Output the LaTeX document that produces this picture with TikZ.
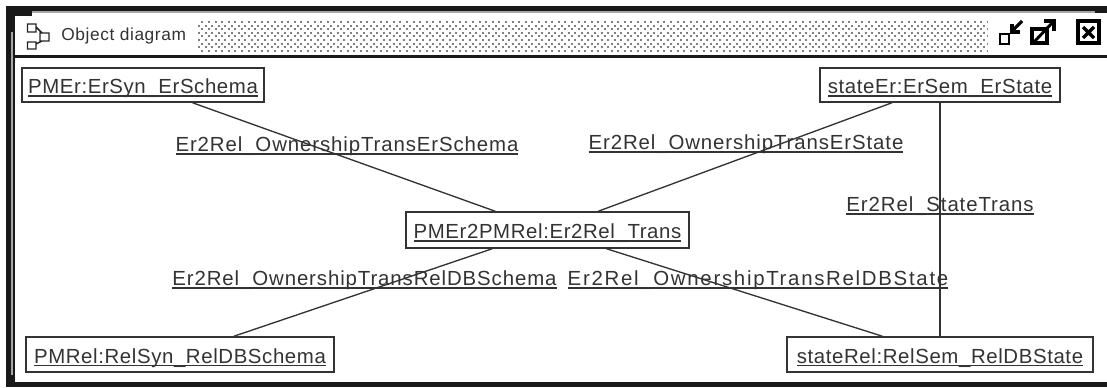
\documentclass[tikz,border=0pt]{standalone}
\usepackage{fontspec}
\setmainfont{Liberation Sans}
\newfontfamily\objfont[LetterSpace=3]{Liberation Sans}
\newfontfamily\labfont[LetterSpace=4.4]{Liberation Sans}
\newfontfamily\labwidefont[LetterSpace=8.4]{Liberation Sans}
\newfontfamily\titfont[LetterSpace=3.5]{Liberation Sans}
\newcommand\ulab[1]{\setbox0\hbox{#1}\raisebox{0pt}[12.8pt][0pt]{\leavevmode\rlap{\vrule width\wd0 height -1.4pt depth 2.5pt}\box0}}
\tikzset{
  x=0.75pt,y=-0.75pt,
  obj/.style={draw=black!80,line width=1.1pt,fill=white,inner sep=0pt,font=\objfont\fontsize{15.3}{18}\selectfont,text=black!80},
  lab/.style={inner sep=0pt,font=\labfont\fontsize{15.3}{18}\selectfont,text=black!80,anchor=center},
  labwide/.style={lab,font=\labwidefont\fontsize{15.3}{18}\selectfont},
  link/.style={draw=black!80,line width=1pt},
}
\begin{document}
\begin{tikzpicture}
\useasboundingbox (0,0) rectangle (1107,387);
\fill[white] (0,0) rectangle (1107,387);
% frame
\fill[black!90] (6,6) rectangle (1107,13);
\fill[black!90] (6,6) rectangle (15,387);
\fill[black!90] (6,382) rectangle (1107,387);
\fill[black!35] (32,11) rectangle (1095,12.5);
\fill[black!35] (11,32) rectangle (12.5,375);
\fill[black!90] (15,13) rectangle (32,16);
\fill[black!90] (15,55) rectangle (1107,58);
% title bar
\node[inner sep=0pt,anchor=west,font=\titfont\fontsize{13}{15}\selectfont,text=black!80] (title) at (61,36) {Object diagram};
\foreach \y [count=\i] in {22,25.6,...,51}{
  \pgfmathsetmacro{\off}{mod(\i,2)*3.3}
  \draw[black!50,line width=1.5pt,dash pattern=on 1.5pt off 3.45pt,dash phase=\off*0.75pt] (198,\y) -- (987,\y);
}
% window icon
\draw[black!85,line width=1.1pt] (27.5,24) rectangle (36,32) (27.5,42) rectangle (36,49) (40,33) rectangle (49,41)
  (36,27) -- (42,33) (36,44) -- (42,41);
% buttons
\draw[black,line width=2.2pt] (1000,34) rectangle (1009,44);
\draw[black,line width=2.4pt] (1011,32) -- (1022,21);
\draw[black,line width=2.4pt] (1012,24) -- (1012,32) -- (1020,32);
\draw[black,line width=3pt] (1032,29) rectangle (1047,43);
\draw[black,line width=2.2pt] (1034,42) -- (1053,22);
\draw[black,line width=2.4pt] (1044,21) -- (1054,21) -- (1054,31);
\draw[black,line width=2.8pt] (1078,21) rectangle (1099,43);
\draw[black,line width=2.6pt] (1083,27) -- (1094,38) (1094,27) -- (1083,38);
% objects
\node[obj,minimum width=242pt*0.75,minimum height=34pt*0.75] (a) at (143,85) {\ulab{PMEr:ErSyn\_ErSchema}};
\node[obj,minimum width=240pt*0.75,minimum height=34pt*0.75] (b) at (940,85) {\ulab{stateEr:ErSem\_ErState}};
\node[obj,minimum width=283pt*0.75,minimum height=36pt*0.75] (c) at (547.5,230) {\ulab{PMEr2PMRel:Er2Rel\_Trans}};
\node[obj,minimum width=308pt*0.75,minimum height=35pt*0.75] (d) at (180,354.5) {\ulab{PMRel:RelSyn\_RelDBSchema}};
\node[obj,minimum width=306pt*0.75,minimum height=35pt*0.75] (e) at (940,354.5) {\ulab{stateRel:RelSem\_RelDBState}};
% connectors
\draw[link] (a) -- (c);
\draw[link] (b) -- (c);
\draw[link] (d) -- (c);
\draw[link] (e) -- (c);
\draw[link] (b) -- (e);
% labels
\node[lab] (l1) at (347,143) {\ulab{Er2Rel\_OwnershipTransErSchema}};
\node[lab] (l2) at (746,141) {\ulab{Er2Rel\_OwnershipTransErState}};
\node[lab] (l3) at (940,203) {\ulab{Er2Rel\_StateTrans}};
\node[lab] (l4) at (364.5,277) {\ulab{Er2Rel\_OwnershipTransRelDBSchema}};
\node[labwide] (l5) at (758,277) {\ulab{Er2Rel\_OwnershipTransRelDBState}};
\end{tikzpicture}
\end{document}
